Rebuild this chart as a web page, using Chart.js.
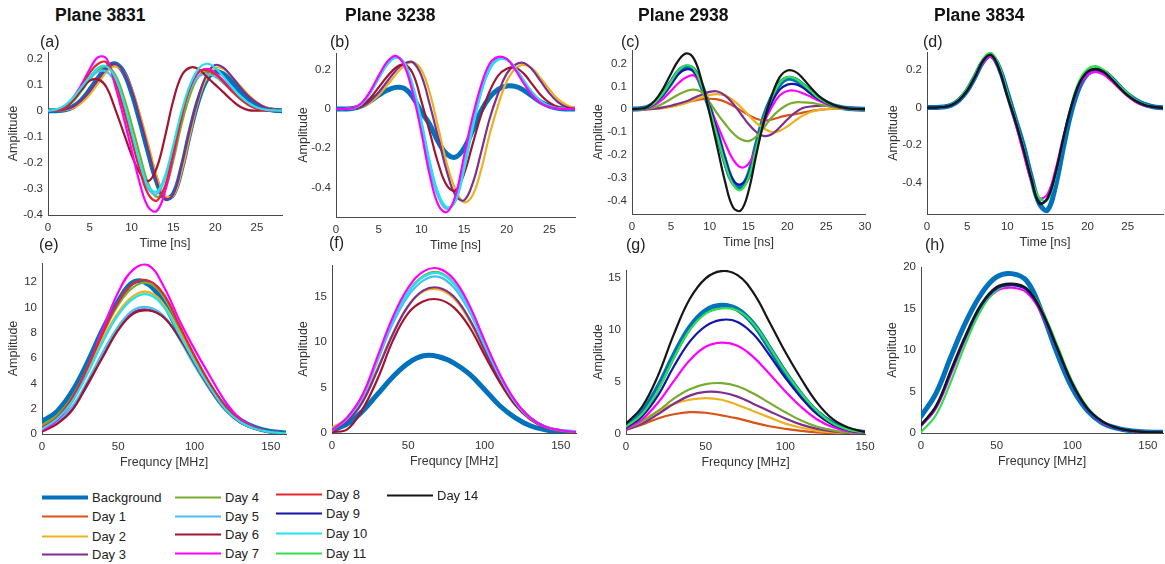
<!DOCTYPE html>
<html>
<head>
<meta charset="utf-8">
<script src="https://cdn.jsdelivr.net/npm/chart.js@4.4.1/dist/chart.umd.min.js"></script>
<style>
  html, body { margin: 0; padding: 0; background: #fff; width: 1165px; height: 564px; overflow: hidden;
    font-family: "Liberation Sans", Arial, sans-serif; }
  canvas { position: absolute; }
  .ttl { position: absolute; font-weight: bold; font-size: 17.5px; color: #111; white-space: nowrap; line-height: 1; transform: translateY(-50%); }
  .lbl { position: absolute; font-size: 16px; color: #222; white-space: nowrap; line-height: 1; transform: translateY(-50%); }
  .leg { position: absolute; display: flex; align-items: center; font-size: 13px; color: #222; white-space: nowrap; transform: translateY(-50%); }
  .leg i { display: block; width: 46px; margin-right: 4px; }
</style>
</head>
<body>
<script>
// ---- sample grids ----
const time28 = [0,1,2,3,4,5,6,7,8,9,10,11,12,13,14,15,16,17,18,19,20,21,22,23,24,25,26,27,28];
const time30 = [0,1,2,3,4,5,6,7,8,9,10,11,12,13,14,15,16,17,18,19,20,21,22,23,24,25,26,27,28,29,30];
const freq160 = [0,10,20,30,40,50,60,70,80,90,100,110,120,130,140,150,160];
const freq150 = [0,10,20,30,40,50,60,70,80,90,100,110,120,130,140,150];

// ---- tick labels ----
const ticksTime25 = [0,5,10,15,20,25];
const ticksTime30 = [0,5,10,15,20,25,30];
const ticksFreq = [0,50,100,150];
const ticksAmpFine = [-0.4,-0.3,-0.2,-0.1,0,0.1,0.2];
const ticksAmpCoarse = [-0.4,-0.2,0,0.2];
const ticksSpecE = [0,2,4,6,8,10,12];
const ticksSpec15 = [0,5,10,15];
const ticksSpec20 = [0,5,10,15,20];

// ---- series names and styles ----
const seriesNames  = ['Background','Day 1','Day 2','Day 3','Day 4','Day 5','Day 6','Day 7','Day 8','Day 9','Day 10','Day 11','Day 14'];
const seriesColors = ['#0072BD','#D95319','#EDB120','#7E2F8E','#77AC30','#4DBEEE','#A2142F','#FF00FF','#E3262B','#1414A8','#22E2F0','#2EE04A','#161616'];
const seriesWidths = [5,2.2,2.2,2.2,2.2,2.2,2.2,2.2,2.2,2.2,2.2,2.2,2.2];
const legendLineWidths = [4,2,2,2,2,2,2,2,2,2,2,2,2];

// ---- Plane 3831, time domain (a) ----
const a_bg  = [0,0,0.003,0.015,0.04,0.08,0.125,0.165,0.18,0.15,0.07,-0.04,-0.16,-0.27,-0.335,-0.32,-0.22,-0.08,0.04,0.12,0.15,0.14,0.11,0.075,0.045,0.022,0.008,0.002,0];
const a_d2  = [0,0,0.002,0.01,0.03,0.062,0.105,0.148,0.17,0.15,0.085,-0.015,-0.13,-0.25,-0.325,-0.325,-0.23,-0.09,0.04,0.125,0.163,0.16,0.13,0.095,0.06,0.032,0.013,0.004,0];
const a_d3  = [0,0,0.004,0.015,0.04,0.075,0.12,0.16,0.18,0.15,0.08,-0.03,-0.15,-0.27,-0.34,-0.32,-0.21,-0.07,0.05,0.14,0.175,0.165,0.13,0.09,0.055,0.03,0.012,0.004,0];
const a_d4  = [0,0.002,0.01,0.035,0.075,0.12,0.155,0.17,0.14,0.06,-0.05,-0.17,-0.28,-0.33,-0.3,-0.19,-0.05,0.06,0.13,0.15,0.14,0.11,0.08,0.05,0.025,0.01,0.003,0,0];
const a_d5  = [0,0.003,0.015,0.045,0.085,0.125,0.15,0.15,0.11,0.02,-0.1,-0.22,-0.3,-0.32,-0.26,-0.14,-0.01,0.08,0.13,0.14,0.13,0.105,0.075,0.045,0.022,0.008,0.002,0,0];
const a_d6  = [0,0.002,0.01,0.04,0.08,0.115,0.12,0.09,0.01,-0.08,-0.17,-0.24,-0.27,-0.22,-0.1,0.04,0.135,0.165,0.16,0.13,0.1,0.07,0.04,0.015,0.002,0,0,0,0];
const a_d7  = [0,0.002,0.015,0.05,0.1,0.16,0.205,0.2,0.1,-0.02,-0.15,-0.28,-0.37,-0.385,-0.31,-0.17,-0.02,0.09,0.145,0.16,0.145,0.115,0.08,0.05,0.025,0.01,0.003,0,0];
const a_d8  = [0,0.002,0.012,0.045,0.09,0.145,0.18,0.185,0.12,0.01,-0.11,-0.23,-0.32,-0.345,-0.29,-0.16,-0.02,0.09,0.15,0.155,0.14,0.11,0.075,0.045,0.022,0.008,0.002,0,0];
const a_d10 = [0,0.005,0.02,0.05,0.09,0.13,0.165,0.17,0.13,0.04,-0.08,-0.2,-0.29,-0.31,-0.25,-0.13,0,0.1,0.16,0.18,0.165,0.13,0.09,0.055,0.03,0.012,0.004,0.001,0];

// ---- Plane 3238, time domain (b) ----
const b_bg  = [0,0,0.003,0.015,0.04,0.07,0.095,0.11,0.105,0.06,-0.015,-0.08,-0.17,-0.23,-0.245,-0.2,-0.11,-0.01,0.06,0.1,0.117,0.115,0.095,0.065,0.035,0.015,0.004,0,0];
const b_d2  = [0,0,0.002,0.01,0.032,0.07,0.12,0.175,0.22,0.238,0.2,0.08,-0.1,-0.28,-0.41,-0.475,-0.44,-0.31,-0.13,0.02,0.14,0.205,0.225,0.205,0.155,0.1,0.05,0.02,0.005];
const b_d3  = [0,0,0.002,0.012,0.04,0.085,0.14,0.195,0.232,0.238,0.17,0.02,-0.15,-0.32,-0.44,-0.465,-0.38,-0.22,-0.05,0.08,0.18,0.225,0.234,0.2,0.14,0.08,0.035,0.01,0];
const b_d4  = [0,0,0.004,0.026,0.082,0.158,0.228,0.262,0.232,0.11,-0.07,-0.28,-0.44,-0.505,-0.465,-0.3,-0.09,0.09,0.205,0.255,0.252,0.208,0.142,0.082,0.037,0.013,0.003,0,0];
const b_d5  = [0,0,0.004,0.027,0.085,0.16,0.23,0.265,0.23,0.1,-0.08,-0.3,-0.45,-0.51,-0.46,-0.29,-0.08,0.1,0.21,0.26,0.255,0.21,0.14,0.08,0.035,0.012,0.003,0,0];
const b_d6  = [0,0,0.003,0.018,0.055,0.11,0.165,0.21,0.226,0.18,0.04,-0.12,-0.28,-0.39,-0.415,-0.33,-0.18,-0.03,0.09,0.17,0.205,0.21,0.18,0.125,0.07,0.032,0.01,0.002,0];
const b_d7  = [0,0,0.005,0.03,0.09,0.17,0.24,0.27,0.22,0.08,-0.12,-0.34,-0.49,-0.525,-0.44,-0.24,-0.04,0.12,0.23,0.265,0.255,0.2,0.13,0.07,0.03,0.01,0.002,0,0];
const b_d10 = [0,0,0.004,0.025,0.08,0.155,0.225,0.26,0.235,0.12,-0.06,-0.27,-0.43,-0.5,-0.47,-0.31,-0.1,0.08,0.2,0.25,0.25,0.21,0.145,0.085,0.04,0.015,0.004,0,0];

// ---- Plane 2938, time domain (c) ----
const c_bg  = [0,0.002,0.008,0.03,0.068,0.115,0.165,0.185,0.17,0.1,0.005,-0.11,-0.23,-0.32,-0.34,-0.29,-0.16,-0.035,0.05,0.11,0.135,0.13,0.105,0.075,0.05,0.03,0.015,0.007,0.003,0.001,0];
const c_d1  = [0,0,0,0.002,0.006,0.012,0.02,0.03,0.038,0.044,0.046,0.043,0.033,0.015,-0.005,-0.025,-0.042,-0.05,-0.045,-0.035,-0.027,-0.022,-0.015,-0.008,-0.003,0,0.002,0.002,0.001,0,0];
const c_d2  = [0,0,0,0.002,0.005,0.01,0.018,0.028,0.04,0.052,0.062,0.066,0.06,0.04,0.01,-0.025,-0.06,-0.085,-0.1,-0.095,-0.075,-0.05,-0.028,-0.012,-0.004,0.001,0.003,0.002,0.001,0,0];
const c_d3  = [0,0,0,0.003,0.008,0.015,0.025,0.035,0.05,0.065,0.076,0.078,0.06,0.025,-0.02,-0.065,-0.1,-0.118,-0.11,-0.08,-0.045,-0.015,0.005,0.012,0.015,0.015,0.012,0.008,0.004,0.002,0];
const c_d4  = [0,0,0.002,0.01,0.025,0.045,0.065,0.08,0.086,0.075,0.03,-0.02,-0.065,-0.105,-0.132,-0.14,-0.12,-0.08,-0.035,-0.003,0.02,0.03,0.03,0.028,0.022,0.015,0.009,0.005,0.002,0.001,0];
const c_d7  = [0,0.001,0.005,0.02,0.045,0.08,0.115,0.14,0.148,0.1,0.01,-0.07,-0.15,-0.22,-0.255,-0.24,-0.17,-0.06,0.01,0.06,0.08,0.081,0.07,0.055,0.038,0.024,0.013,0.006,0.002,0.001,0];
const c_d9  = [0,0.002,0.007,0.028,0.065,0.11,0.155,0.175,0.165,0.1,0.01,-0.1,-0.22,-0.31,-0.33,-0.29,-0.17,-0.05,0.03,0.085,0.108,0.11,0.095,0.07,0.045,0.028,0.014,0.006,0.002,0.001,0];
const c_d11 = [0,0.002,0.008,0.03,0.07,0.12,0.17,0.193,0.175,0.1,0,-0.12,-0.24,-0.33,-0.355,-0.3,-0.17,-0.04,0.05,0.115,0.141,0.135,0.11,0.08,0.05,0.03,0.015,0.007,0.003,0.001,0];
const c_d14 = [0,0.002,0.01,0.04,0.09,0.155,0.215,0.245,0.22,0.12,-0.02,-0.17,-0.32,-0.43,-0.445,-0.36,-0.2,-0.05,0.06,0.14,0.17,0.165,0.135,0.095,0.06,0.035,0.018,0.008,0.003,0.001,0];

// ---- Plane 3834, time domain (d) ----
const d_bg  = [0,0,0.003,0.012,0.04,0.09,0.165,0.245,0.275,0.21,0.08,-0.06,-0.2,-0.37,-0.51,-0.545,-0.42,-0.21,-0.02,0.11,0.18,0.2,0.19,0.155,0.11,0.07,0.04,0.018,0.006,0,0];
const d_d7  = [0,0,0.003,0.012,0.04,0.09,0.165,0.24,0.27,0.2,0.06,-0.08,-0.24,-0.39,-0.48,-0.46,-0.33,-0.15,0.01,0.12,0.175,0.19,0.175,0.14,0.1,0.06,0.03,0.012,0.004,0,0];
const d_d9  = [0,0,0.003,0.012,0.04,0.09,0.165,0.248,0.278,0.205,0.065,-0.07,-0.22,-0.38,-0.505,-0.485,-0.35,-0.16,0.01,0.13,0.19,0.203,0.188,0.15,0.105,0.065,0.035,0.015,0.005,0,0];
const d_d11 = [0,0,0.004,0.015,0.045,0.1,0.175,0.26,0.29,0.22,0.08,-0.06,-0.21,-0.37,-0.48,-0.49,-0.36,-0.16,0.02,0.145,0.205,0.22,0.2,0.16,0.115,0.075,0.04,0.018,0.006,0,0];
const d_d14 = [0,0,0.003,0.012,0.04,0.09,0.165,0.25,0.28,0.2,0.06,-0.07,-0.22,-0.38,-0.51,-0.48,-0.35,-0.16,0.01,0.13,0.19,0.205,0.19,0.15,0.105,0.065,0.035,0.015,0.005,0,0];

// ---- Plane 3831, spectrum (e) ----
const e_bg  = [1.0,1.8,3.4,5.7,8.3,10.5,12.0,11.8,10.3,8.0,5.8,3.8,2.15,1.1,0.5,0.2,0.08];
const e_d2  = [0.6,1.4,2.8,5.0,7.5,9.6,10.9,11.2,10.2,8.1,5.9,3.9,2.1,1.0,0.4,0.15,0.05];
const e_d3  = [0.3,0.9,2.0,3.9,6.2,8.3,9.6,9.8,9.2,7.6,5.6,3.7,2.0,0.95,0.4,0.15,0.05];
const e_d4  = [0.7,1.5,3.0,5.3,7.9,10.2,11.6,11.9,10.8,8.5,6.1,4.0,2.2,1.05,0.45,0.15,0.05];
const e_d5  = [0.3,1.0,2.2,4.2,6.5,8.5,9.8,10.0,9.3,7.5,5.4,3.5,1.9,0.9,0.4,0.15,0.05];
const e_d6  = [0.2,0.8,1.9,4.0,6.1,8.2,9.5,9.75,9.2,7.6,5.6,3.6,1.95,0.9,0.4,0.15,0.05];
const e_d7  = [0.3,1.1,2.6,5.3,8.3,11.2,13.0,13.3,11.6,9.0,6.7,4.6,2.6,1.2,0.5,0.15,0.05];
const e_d8  = [0.5,1.3,2.9,5.3,8.0,10.4,11.9,12.1,11.0,8.6,6.2,4.0,2.2,1.05,0.45,0.15,0.05];
const e_d10 = [0.4,1.2,2.6,4.8,7.3,9.4,10.7,11.0,10.0,7.9,5.7,3.7,2.0,0.95,0.4,0.15,0.05];

// ---- Plane 3238, spectrum (f) ----
const f_bg  = [0.3,1.0,2.4,4.3,6.2,7.7,8.5,8.4,7.7,6.5,4.8,3.0,1.7,0.8,0.35,0.15,0.05];
const f_d2  = [0.6,1.6,3.7,7.2,11.0,14.0,15.6,15.8,14.8,12.4,9.0,5.8,3.2,1.5,0.65,0.25,0.1];
const f_d3  = [0.3,1.3,3.4,7.0,10.9,14.0,15.7,16.0,15.0,12.6,9.2,5.9,3.3,1.6,0.7,0.3,0.1];
const f_d4  = [0.4,1.7,4.1,8.2,12.4,15.5,17.3,17.7,16.5,13.8,10.0,6.4,3.5,1.7,0.7,0.3,0.1];
const f_d5  = [0.3,1.6,4.0,8.0,12.1,15.1,16.8,17.2,16.0,13.4,9.7,6.2,3.4,1.6,0.7,0.3,0.1];
const f_d6  = [0.1,0.4,2.6,6.0,10.2,13.2,14.5,14.7,13.8,11.7,8.6,5.6,3.1,1.5,0.6,0.25,0.1];
const f_d7  = [0.3,1.7,4.2,8.5,12.8,16.0,17.8,18.1,16.9,14.1,10.2,6.5,3.6,1.7,0.7,0.3,0.1];
const f_d10 = [0.3,1.6,4.1,8.3,12.5,15.5,17.2,17.6,16.4,13.7,9.9,6.3,3.5,1.7,0.7,0.3,0.2];

// ---- Plane 2938, spectrum (g) ----
const g_bg  = [0.8,2.1,4.5,7.6,10.3,11.9,12.4,12.0,10.6,8.3,5.9,3.8,2.1,1.0,0.4,0.15];
const g_d1  = [0.4,0.9,1.5,1.9,2.1,2.05,1.8,1.5,1.1,0.75,0.5,0.3,0.15,0.08,0.04,0.02];
const g_d2  = [0.6,1.3,2.2,2.9,3.3,3.45,3.3,2.8,2.2,1.6,1.0,0.6,0.3,0.15,0.07,0.03];
const g_d3  = [0.4,1.0,1.9,2.9,3.7,4.05,4.0,3.6,2.9,2.2,1.5,0.9,0.5,0.25,0.1,0.05];
const g_d4  = [0.5,1.2,2.2,3.4,4.3,4.8,4.9,4.6,3.9,3.0,2.1,1.3,0.7,0.35,0.12,0.05];
const g_d7  = [0.5,1.4,3.0,5.1,7.1,8.4,8.8,8.5,7.4,5.8,4.1,2.6,1.4,0.65,0.25,0.1];
const g_d9  = [0.6,1.7,3.7,6.5,8.9,10.4,11.0,10.8,9.6,7.6,5.4,3.5,1.9,0.9,0.35,0.12];
const g_d11 = [0.7,1.9,4.2,7.3,10.0,11.6,12.1,11.9,10.6,8.4,6.0,3.9,2.2,1.0,0.4,0.15];
const g_d14 = [1.0,2.6,5.6,9.6,13.0,15.0,15.7,15.3,13.6,10.8,7.9,5.3,3.0,1.4,0.6,0.2];

// ---- Plane 3834, spectrum (h) ----
const h_bg  = [2.0,4.8,9.3,13.5,16.8,18.8,19.2,18.3,14.5,9.6,5.4,2.7,1.2,0.55,0.25,0.12,0.08];
const h_d7  = [0.8,3.0,7.2,11.6,15.1,17.1,17.5,16.9,14.3,10.2,5.9,2.9,1.3,0.55,0.22,0.08,0.03];
const h_d9  = [0.9,3.2,7.5,11.8,15.4,17.4,17.8,17.2,14.5,10.2,5.9,2.9,1.35,0.58,0.24,0.1,0.05];
const h_d11 = [0.1,2.2,6.3,11.0,14.9,17.2,17.8,17.3,14.8,10.6,6.2,3.1,1.4,0.6,0.25,0.1,0.05];
const h_d14 = [1.0,3.3,7.7,12.0,15.6,17.6,18.0,17.4,14.6,10.3,6.0,3.0,1.4,0.6,0.25,0.1,0.05];

const planeTitles = ['Plane 3831','Plane 3238','Plane 2938','Plane 3834'];

// Panel setup: data sources, axis ranges and plot-area placement [left, right, top, bottom, y-axis width]
const panels = [
  { tag:'(a)', xs:time28, xMax:28, yMin:-0.4, yMax:0.225, xTicks:ticksTime25, yTicks:ticksAmpFine, xTitle:'Time [ns]',
    series:[['Background',a_bg],['Day 2',a_d2],['Day 3',a_d3],['Day 4',a_d4],['Day 5',a_d5],['Day 6',a_d6],['Day 7',a_d7],['Day 8',a_d8],['Day 10',a_d10]],
    box:[48,282,52,215,42], tagPos:[40,42] },
  { tag:'(b)', xs:time28, xMax:28, yMin:-0.55, yMax:0.285, xTicks:ticksTime25, yTicks:ticksAmpCoarse, xTitle:'Time [ns]',
    series:[['Background',b_bg],['Day 2',b_d2],['Day 3',b_d3],['Day 6',b_d6],['Day 4',b_d4],['Day 5',b_d5],['Day 10',b_d10],['Day 7',b_d7]],
    box:[336,575,53,217,40], tagPos:[330,42] },
  { tag:'(c)', xs:time30, xMax:30, yMin:-0.46, yMax:0.26, xTicks:ticksTime30, yTicks:ticksAmpFine, xTitle:'Time [ns]',
    series:[['Background',c_bg],['Day 1',c_d1],['Day 2',c_d2],['Day 3',c_d3],['Day 4',c_d4],['Day 7',c_d7],['Day 9',c_d9],['Day 11',c_d11],['Day 14',c_d14]],
    box:[632,865,50,214,41], tagPos:[621,42] },
  { tag:'(d)', xs:time30, xMax:29.4, yMin:-0.565, yMax:0.295, xTicks:ticksTime25, yTicks:ticksAmpCoarse, xTitle:'Time [ns]',
    series:[['Background',d_bg],['Day 7',d_d7],['Day 11',d_d11],['Day 9',d_d9],['Day 14',d_d14]],
    box:[927,1163,52,214,41], tagPos:[923,42] },
  { tag:'(e)', xs:freq160, xMax:160, yMin:0, yMax:13.5, xTicks:ticksFreq, yTicks:ticksSpecE, xTitle:'Frequncy [MHz]',
    series:[['Background',e_bg],['Day 2',e_d2],['Day 3',e_d3],['Day 4',e_d4],['Day 5',e_d5],['Day 6',e_d6],['Day 7',e_d7],['Day 8',e_d8],['Day 10',e_d10]],
    box:[42,286,263,434,36], tagPos:[39,245] },
  { tag:'(f)', xs:freq160, xMax:160, yMin:0, yMax:18.5, xTicks:ticksFreq, yTicks:ticksSpec15, xTitle:'Frequncy [MHz]',
    series:[['Background',f_bg],['Day 2',f_d2],['Day 3',f_d3],['Day 6',f_d6],['Day 4',f_d4],['Day 5',f_d5],['Day 10',f_d10],['Day 7',f_d7]],
    box:[332,576,265,433,36], tagPos:[329,243] },
  { tag:'(g)', xs:freq150, xMax:150, yMin:0, yMax:15.8, xTicks:ticksFreq, yTicks:ticksSpec15, xTitle:'Frequncy [MHz]',
    series:[['Background',g_bg],['Day 1',g_d1],['Day 2',g_d2],['Day 3',g_d3],['Day 4',g_d4],['Day 7',g_d7],['Day 9',g_d9],['Day 11',g_d11],['Day 14',g_d14]],
    box:[626,865,270,434,35], tagPos:[626,245] },
  { tag:'(h)', xs:freq160, xMax:160, yMin:0, yMax:20, xTicks:ticksFreq, yTicks:ticksSpec20, xTitle:'Frequncy [MHz]',
    series:[['Background',h_bg],['Day 7',h_d7],['Day 11',h_d11],['Day 9',h_d9],['Day 14',h_d14]],
    box:[921,1163,267,433,36], tagPos:[925,245] },
];

const titlePos = [[55,16],[345,16],[638,16],[934,16]];

const FONT = '"Liberation Sans", Arial, sans-serif';
Chart.defaults.font.family = FONT;

function addText(cls, text, x, y) {
  const el = document.createElement('div');
  el.className = cls;
  el.textContent = text;
  el.style.left = x + 'px';
  el.style.top = y + 'px';
  document.body.appendChild(el);
}

function styleOf(name) {
  const i = seriesNames.indexOf(name);
  return { color: seriesColors[i], width: seriesWidths[i] };
}

function buildDatasets(xs, list) {
  return list.map(([name, ys], i) => {
    const st = styleOf(name);
    return {
      label: name,
      data: xs.map((x, k) => ({ x, y: ys[k] })),
      borderColor: st.color,
      borderWidth: st.width,
      pointRadius: 0,
      fill: false,
      tension: 0.4,
      borderCapStyle: 'round',
      borderJoinStyle: 'round',
      order: list.length - i   // later series drawn on top
    };
  });
}

const PAD_TOP = 10, PAD_RIGHT = 18, X_AXIS_H = 36;

panels.forEach(p => {
  const [L, R, T, B, yW] = p.box;
  const left = L - yW, top = T - PAD_TOP;
  const w = R + PAD_RIGHT - left, h = B + X_AXIS_H - top;
  const cv = document.createElement('canvas');
  cv.width = w; cv.height = h;
  cv.style.left = left + 'px'; cv.style.top = top + 'px';
  cv.style.width = w + 'px'; cv.style.height = h + 'px';
  document.body.appendChild(cv);

  const axisCommon = {
    type: 'linear',
    grid: { display: false, drawTicks: false },
    border: { display: true, color: '#4a4a4a', width: 1 },
  };

  new Chart(cv, {
    type: 'line',
    data: { datasets: buildDatasets(p.xs, p.series) },
    options: {
      responsive: false,
      animation: false,
      devicePixelRatio: 1,
      layout: { padding: { top: PAD_TOP, right: PAD_RIGHT, left: 0, bottom: 0 } },
      plugins: { legend: { display: false }, tooltip: { enabled: false } },
      scales: {
        x: Object.assign({}, axisCommon, {
          min: 0, max: p.xMax,
          afterBuildTicks: s => { s.ticks = p.xTicks.map(v => ({ value: v })); },
          afterFit: s => { s.height = X_AXIS_H; s.paddingLeft = 0; s.paddingRight = 0; },
          ticks: { padding: 6, color: '#333', font: { size: 11.5 }, maxRotation: 0, autoSkip: false, callback: v => String(v) },
          title: { display: true, text: p.xTitle, color: '#333', font: { size: 12.5 }, padding: 0 }
        }),
        y: Object.assign({}, axisCommon, {
          min: p.yMin, max: p.yMax,
          afterBuildTicks: s => { s.ticks = p.yTicks.map(v => ({ value: v })); },
          afterFit: s => { s.width = yW; s.paddingTop = 0; s.paddingBottom = 0; },
          ticks: { padding: 5, color: '#333', font: { size: 11.5 }, autoSkip: false, callback: v => String(v) },
          title: { display: true, text: 'Amplitude', color: '#333', font: { size: 12.5 }, padding: 0 }
        })
      }
    }
  });

  addText('lbl', p.tag, p.tagPos[0], p.tagPos[1]);
});

planeTitles.forEach((t, i) => addText('ttl', t, titlePos[i][0], titlePos[i][1]));

// ---- legend ----
const legendColumns = [
  { x: 42,  entries: ['Background','Day 1','Day 2','Day 3'], ys: [497,516,536,554] },
  { x: 175, entries: ['Day 4','Day 5','Day 6','Day 7'],      ys: [497,516,534,553] },
  { x: 276, entries: ['Day 8','Day 9','Day 10','Day 11'],    ys: [494,513,533,553] },
  { x: 387, entries: ['Day 14'],                             ys: [495] },
];
legendColumns.forEach(col => {
  col.entries.forEach((name, k) => {
    const i = seriesNames.indexOf(name);
    const item = document.createElement('div');
    item.className = 'leg';
    item.style.left = col.x + 'px';
    item.style.top = col.ys[k] + 'px';
    const line = document.createElement('i');
    line.style.borderTop = legendLineWidths[i] + 'px solid ' + seriesColors[i];
    const txt = document.createElement('span');
    txt.textContent = name;
    item.appendChild(line); item.appendChild(txt);
    document.body.appendChild(item);
  });
});
</script>
</body>
</html>
